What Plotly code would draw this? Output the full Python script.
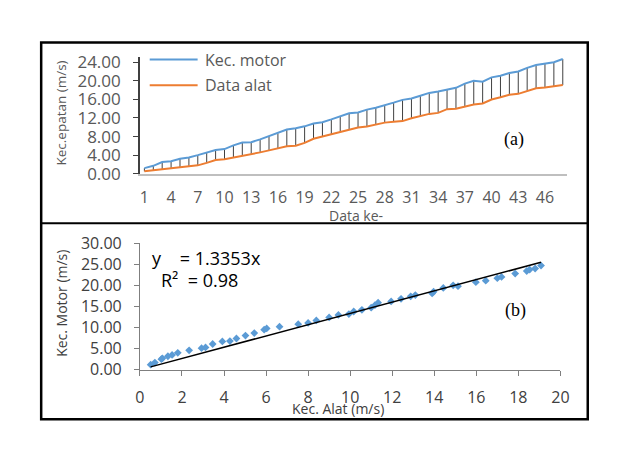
import plotly.graph_objects as go

# ---- data ----
data_ke = list(range(1, 49))
kec_motor = [1.2, 1.7, 2.5, 2.7, 3.2, 3.5, 4.0, 4.6, 5.1, 5.3, 6.1, 6.7, 6.8, 7.4,
             8.1, 8.7, 9.5, 9.8, 10.2, 10.8, 11.1, 11.7, 12.4, 13.0, 13.2, 13.8,
             14.2, 14.7, 15.3, 15.9, 16.2, 16.8, 17.4, 17.7, 18.1, 18.5, 19.4, 20.0,
             19.8, 20.75, 21.1, 21.7, 22.0, 22.8, 23.4, 23.75, 24.0, 24.7]
data_alat = [0.51, 0.71, 1.02, 1.07, 1.33, 1.53, 1.80, 2.34, 2.93, 3.12, 3.46, 3.92,
             4.28, 4.59, 5.02, 5.44, 5.91, 6.03, 6.64, 7.53, 8.00, 8.39, 9.00, 9.44,
             9.94, 10.17, 10.56, 11.00, 11.18, 11.33, 11.95, 12.42, 12.88, 13.10,
             13.90, 13.97, 14.43, 14.90, 15.13, 15.98, 16.45, 17.00, 17.20, 17.85,
             18.40, 18.54, 18.80, 19.08]
slope = 1.3353
r2 = 0.98
top_x_ticks = list(range(1, 48, 3))
top_y_ticks = [0, 4, 8, 12, 16, 20, 24]
bot_y_ticks = [0, 5, 10, 15, 20, 25, 30]
bot_x_ticks = [0, 2, 4, 6, 8, 10, 12, 14, 16, 18, 20]

W, H = 630, 454
def px(x):
    return x / W
def py(y):
    return 1 - y / H

BLUE = "#5B9BD5"
ORANGE = "#ED7D31"
FONT = "Open Sans"

fig = go.Figure()

# drop lines between series
dx, dy = [], []
for i, a, m in zip(data_ke, data_alat, kec_motor):
    dx += [i, i, None]
    dy += [a, m, None]
fig.add_trace(go.Scatter(x=dx, y=dy, mode="lines", line=dict(color="#404040", width=1),
                         showlegend=False, hoverinfo="skip", xaxis="x", yaxis="y"))
fig.add_trace(go.Scatter(x=data_ke, y=kec_motor, mode="lines", name="Kec. motor",
                         line=dict(color=BLUE, width=2), xaxis="x", yaxis="y", showlegend=False))
fig.add_trace(go.Scatter(x=data_ke, y=data_alat, mode="lines", name="Data alat",
                         line=dict(color=ORANGE, width=2), xaxis="x", yaxis="y", showlegend=False))

# bottom scatter
fig.add_trace(go.Scatter(x=data_alat, y=kec_motor, mode="markers",
                         marker=dict(symbol="diamond", size=6, color=BLUE),
                         xaxis="x2", yaxis="y2", showlegend=False))
tx = [min(data_alat), max(data_alat)]
fig.add_trace(go.Scatter(x=tx, y=[slope * v for v in tx], mode="lines",
                         line=dict(color="black", width=1.5),
                         xaxis="x2", yaxis="y2", showlegend=False))

GRAY_T = "#595959"
GRAY_B = "#404040"

fig.update_layout(
    width=W, height=H, margin=dict(l=0, r=0, t=0, b=0),
    paper_bgcolor="white", plot_bgcolor="white",
    xaxis=dict(domain=[px(138), px(575)], range=[0.5, 48.5], tickmode="array",
               tickvals=top_x_ticks, ticktext=[str(v) for v in top_x_ticks],
               showline=True, linecolor="#BFBFBF", linewidth=2, ticks="",
               showgrid=False, zeroline=False,
               tickfont=dict(family=FONT, size=16, color=GRAY_T),
               ticklabelstandoff=8, anchor="y"),
    yaxis=dict(domain=[py(171), py(48)], range=[0, 25.2], tickmode="array",
               tickvals=top_y_ticks, ticktext=[f"{v:.2f}" for v in top_y_ticks],
               showline=True, linecolor="#404040", linewidth=1.5, ticks="outside",
               ticklen=5, tickcolor="#404040", showgrid=False, zeroline=False,
               tickfont=dict(family=FONT, size=17, color=GRAY_T),
               ticklabelstandoff=9, anchor="x"),
    xaxis2=dict(domain=[px(138), px(568)], range=[0, 20], tickmode="array",
                tickvals=bot_x_ticks, showline=True, linecolor="#7F7F7F", linewidth=1,
                ticks="outside", ticklen=5, tickcolor="#7F7F7F", showgrid=False,
                zeroline=False, tickfont=dict(family=FONT, size=16, color=GRAY_B),
                ticklabelstandoff=8, anchor="y2"),
    yaxis2=dict(domain=[py(377), py(244)], range=[0, 30], tickmode="array",
                tickvals=bot_y_ticks, ticktext=[f"{v:.2f}" for v in bot_y_ticks],
                showline=True, linecolor="#7F7F7F", linewidth=1, ticks="outside",
                ticklen=5, tickcolor="#7F7F7F", showgrid=False, zeroline=False,
                tickfont=dict(family=FONT, size=16, color=GRAY_B),
                ticklabelstandoff=9, anchor="x2"),
)

shapes = [
    dict(type="rect", xref="paper", yref="paper", x0=px(37), x1=px(596), y0=py(429), y1=py(33),
         line=dict(color="black", width=2.5)),
    dict(type="line", xref="paper", yref="paper", x0=px(37), x1=px(596), y0=py(223), y1=py(223),
         line=dict(color="black", width=2)),
    # legend samples
    dict(type="line", xref="paper", yref="paper", x0=px(148), x1=px(197), y0=py(51), y1=py(51),
         line=dict(color=BLUE, width=2)),
    dict(type="line", xref="paper", yref="paper", x0=px(148), x1=px(197), y0=py(78), y1=py(78),
         line=dict(color=ORANGE, width=2)),
]
fig.update_layout(shapes=shapes)

ann = [
    dict(x=px(203), y=py(51), text="Kec. motor", xanchor="left", yanchor="middle",
         font=dict(family=FONT, size=16, color=GRAY_T)),
    dict(x=px(203), y=py(78), text="Data alat", xanchor="left", yanchor="middle",
         font=dict(family=FONT, size=16, color=GRAY_T)),
    dict(x=px(521), y=py(135), text="(a)", xanchor="center", yanchor="middle",
         font=dict(family="Liberation Serif", size=18, color="black")),
    dict(x=px(57), y=py(107), text="Kec.epatan (m/s)", textangle=-90, xanchor="center",
         yanchor="middle", font=dict(family=FONT, size=13.5, color=GRAY_T)),
    dict(x=px(359), y=py(215), text="Data ke-", xanchor="center", yanchor="middle",
         font=dict(family=FONT, size=14, color=GRAY_T)),
    dict(x=px(57), y=py(307), text="Kec. Motor (m/s)", textangle=-90, xanchor="center",
         yanchor="middle", font=dict(family=FONT, size=14, color=GRAY_B)),
    dict(x=px(341), y=py(418), text="Kec. Alat (m/s)", xanchor="center", yanchor="middle",
         font=dict(family=FONT, size=14, color=GRAY_B)),
    dict(x=px(148), y=py(260), text=f"y    = {slope}x", xanchor="left", yanchor="middle",
         font=dict(family=FONT, size=18, color="black")),
    dict(x=px(158), y=py(283), text=f"R²  = {r2}", xanchor="left", yanchor="middle",
         font=dict(family=FONT, size=18, color="black")),
    dict(x=px(522), y=py(315), text="(b)", xanchor="center", yanchor="middle",
         font=dict(family="Liberation Serif", size=18, color="black")),
]
for a in ann:
    a.update(xref="paper", yref="paper", showarrow=False)
fig.update_layout(annotations=ann)

fig.write_html("out.html")
